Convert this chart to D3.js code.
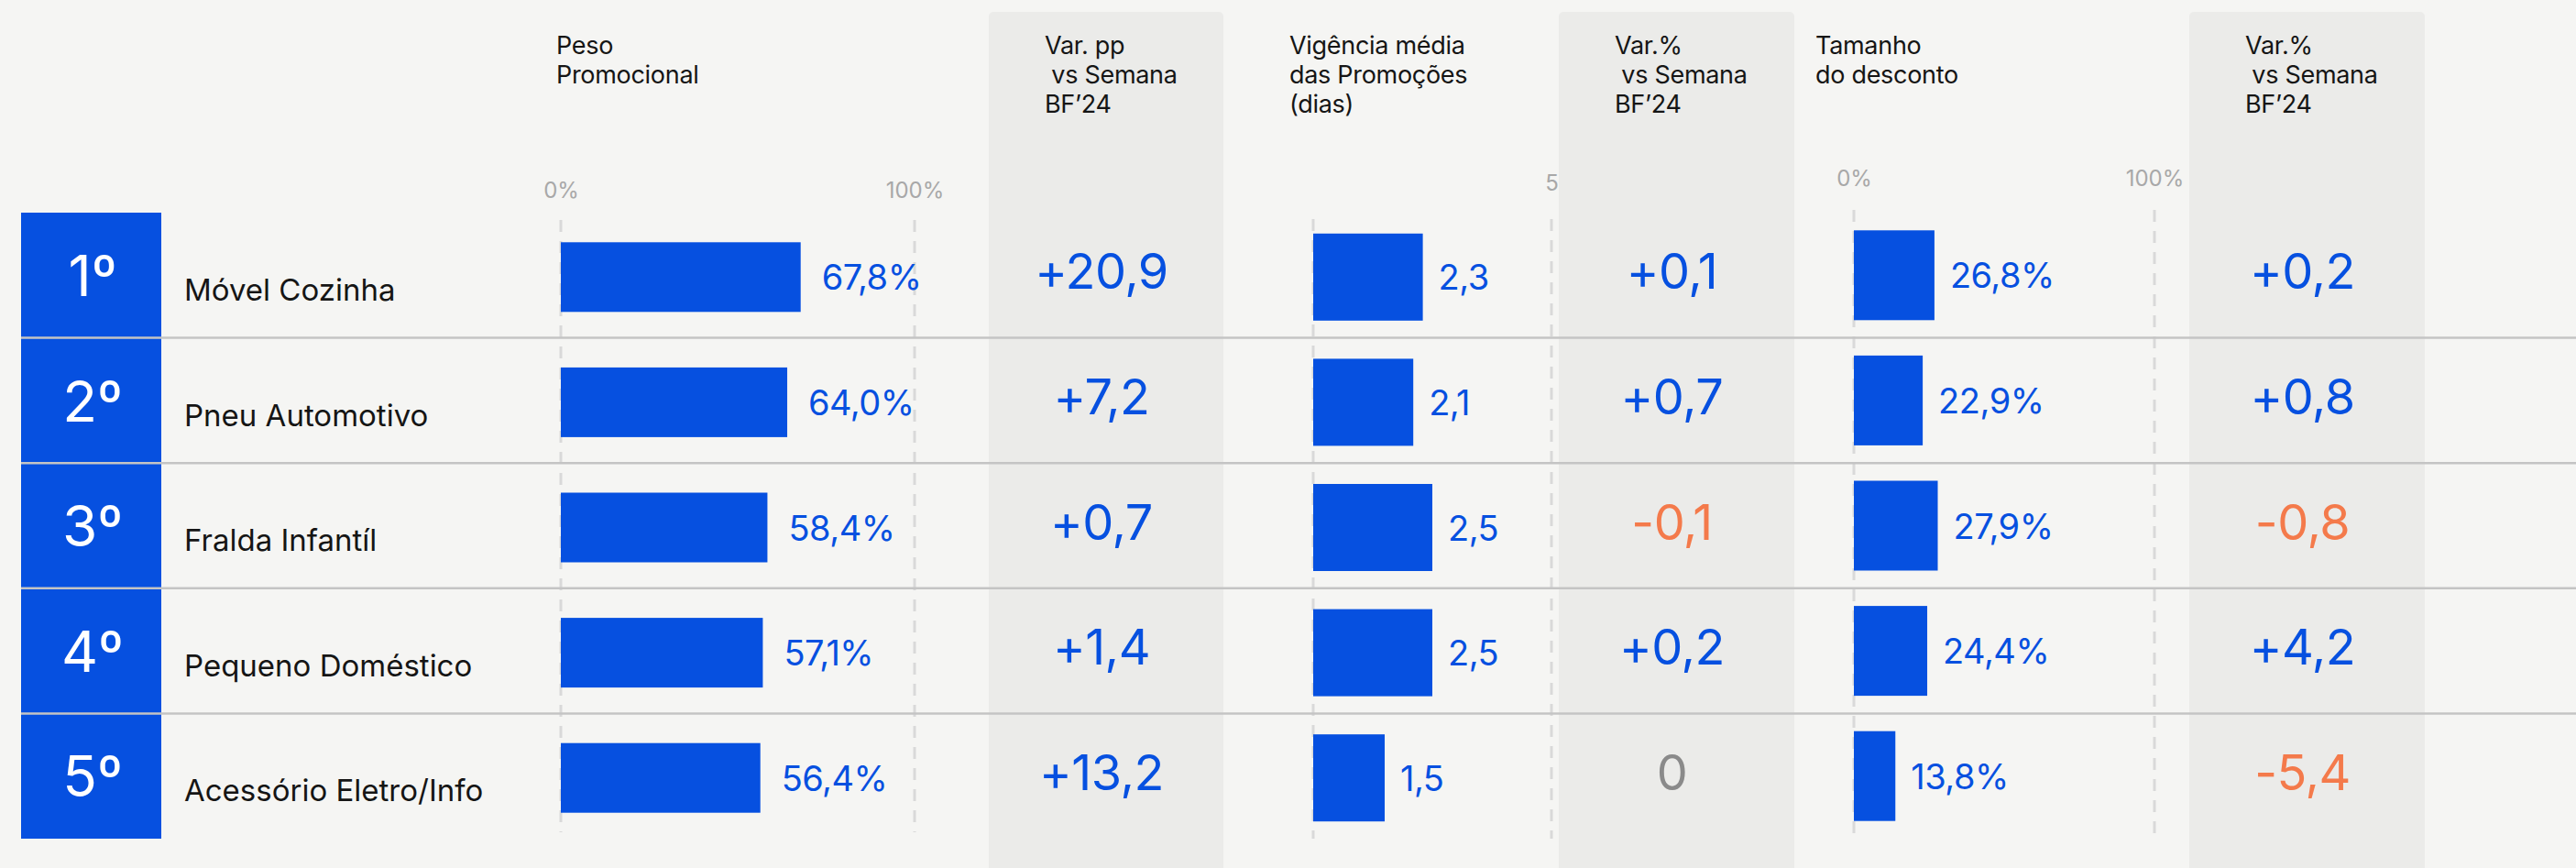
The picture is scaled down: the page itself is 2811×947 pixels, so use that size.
<!DOCTYPE html>
<html>
<head>
<meta charset="utf-8">
<script src="https://cdn.jsdelivr.net/npm/d3@7"></script>
<style>
  body { margin: 0; background: #f5f5f3; }
  svg { display: block; font-family: "Inter", "Noto Sans", sans-serif; }
</style>
</head>
<body>
<script>
// Ranking data
const ranks = ["1º", "2º", "3º", "4º", "5º"];
const categories = ["Móvel Cozinha", "Pneu Automotivo", "Fralda Infantíl", "Pequeno Doméstico", "Acessório Eletro/Info"];
const pesoPromocional = [67.8, 64.0, 58.4, 57.1, 56.4];
const varPeso = [20.9, 7.2, 0.7, 1.4, 13.2];
const vigencia = [2.3, 2.1, 2.5, 2.5, 1.5];
const varVigencia = [0.1, 0.7, -0.1, 0.2, 0];
const desconto = [26.8, 22.9, 27.9, 24.4, 13.8];
const varDesconto = [0.2, 0.8, -0.8, 4.2, -5.4];

// header texts and tick labels
const headers = [
  ["Peso", "Promocional"],
  ["Var. pp", " vs Semana", "BF’24"],
  ["Vigência média", "das Promoções", "(dias)"],
  ["Var.%", " vs Semana", "BF’24"],
  ["Tamanho", "do desconto"],
  ["Var.%", " vs Semana", "BF’24"]
];
const pctTicks = [0, 100];
const diasTicks = [5];

let svgWidth = 2811;
let svgHeight = 947;

const blue = "#0650e0";
const orange = "#f47a4b";

let svg = d3.select("body")
  .append("svg")
  .attr("width", svgWidth)
  .attr("height", svgHeight);

let locale = d3.formatLocale({ decimal: ",", thousands: ".", grouping: [3], currency: ["R$", ""] });
let f1 = locale.format(".1f");
let fmtVar = d => d === 0 ? "0" : (d > 0 ? "+" : "-") + f1(Math.abs(d));

// rows
let yScale = d3.scaleBand()
  .domain(categories)
  .range([232, 915]);
let bw = yScale.bandwidth();
let mid = (d, i) => yScale(categories[i]) + bw / 2;

// bar scales
let xPeso = d3.scaleLinear([0, 100], [612, 998]);
let xDias = d3.scaleLinear([0, 5], [1433, 1693]);
let xDesc = d3.scaleLinear([0, 100], [2023, 2351]);

// grey "var" columns
let greyCols = [[1079, 1335], [1701, 1958], [2389, 2646]];
svg.selectAll(".greycol")
  .data(greyCols)
  .enter()
  .append("rect")
  .attr("x", d => d[0])
  .attr("y", 13)
  .attr("width", d => d[1] - d[0])
  .attr("height", svgHeight)
  .attr("rx", 5)
  .attr("fill", "#ebebe9");

// headers
let headerX = [607, 1140, 1407, 1762, 1981, 2450];
headers.forEach((lines, k) => {
  let t = svg.append("text")
    .attr("x", headerX[k])
    .attr("y", 59)
    .style("font-size", "27px")
    .style("letter-spacing", "-0.3px")
    .style("white-space", "pre")
    .attr("fill", "#151515");
  lines.forEach((l, j) => {
    t.append("tspan")
      .attr("x", headerX[k])
      .attr("y", 59 + j * 32)
      .text(l);
  });
});

// axes (tick labels only) + dashed guide lines
function drawAxis(scale, ticks, fmt, labelY, lineTop, lineBottom, guideTicks) {
  let axis = d3.axisTop(scale)
    .tickValues(ticks)
    .tickFormat(fmt)
    .tickSize(0)
    .tickPadding(0);
  let g = svg.append("g")
    .attr("transform", `translate(0, ${labelY})`)
    .call(axis);
  g.select(".domain").remove();
  g.selectAll("text")
    .attr("dy", "0")
    .style("font-family", "Inter, 'Noto Sans', sans-serif")
    .style("font-size", "24px")
    .attr("fill", "#a8a8a8");

  svg.selectAll(null)
    .data(guideTicks)
    .enter()
    .append("line")
    .attr("x1", d => scale(d))
    .attr("x2", d => scale(d))
    .attr("y1", lineTop)
    .attr("y2", lineBottom)
    .attr("stroke", "#d9d9d9")
    .attr("stroke-width", 3)
    .attr("stroke-dasharray", "13 10");
}

drawAxis(xPeso, pctTicks, d => d + "%", 216, 240, 908, pctTicks);
drawAxis(xDias, diasTicks, d => d, 208, 239, 915, [0].concat(diasTicks));
drawAxis(xDesc, pctTicks, d => d + "%", 203, 229, 916, pctTicks);

// rank boxes
svg.selectAll(".rankbox")
  .data(ranks)
  .enter()
  .append("rect")
  .attr("x", 23)
  .attr("y", (d, i) => yScale(categories[i]))
  .attr("width", 153)
  .attr("height", bw)
  .attr("fill", blue);

// bars
function drawBars(values, scale, barH, labelGap, labelFmt, shift) {
  svg.selectAll(null)
    .data(values)
    .enter()
    .append("rect")
    .attr("x", scale(0))
    .attr("y", (d, i) => mid(d, i) - barH / 2 + shift)
    .attr("width", d => scale(d) - scale(0))
    .attr("height", barH)
    .attr("fill", blue);

  svg.selectAll(null)
    .data(values)
    .enter()
    .append("text")
    .attr("x", d => scale(d) + labelGap)
    .attr("y", (d, i) => mid(d, i) + shift + 14)
    .style("font-size", "38px")
    .style("letter-spacing", "-0.5px")
    .attr("fill", blue)
    .text(labelFmt);
}

drawBars(pesoPromocional, xPeso, 76, 23, d => f1(d) + "%", 2);
drawBars(vigencia, xDias, 95, 17, d => f1(d), 2);
drawBars(desconto, xDesc, 98, 17, d => f1(d) + "%", 0);

// variation numbers
function drawVar(values, col) {
  let cx = (col[0] + col[1]) / 2 - 5;
  svg.selectAll(null)
    .data(values)
    .enter()
    .append("text")
    .attr("x", cx)
    .attr("y", (d, i) => mid(d, i) + 15)
    .attr("text-anchor", "middle")
    .style("font-size", "54px")
    .style("letter-spacing", "-0.5px")
    .attr("fill", d => d > 0 ? blue : d < 0 ? orange : "#8a8a8a")
    .text(fmtVar);
}

drawVar(varPeso, greyCols[0]);
drawVar(varVigencia, greyCols[1]);
drawVar(varDesconto, greyCols[2]);

// row separators
let seps = categories.slice(1).map(c => yScale(c));
svg.selectAll(".sep")
  .data(seps)
  .enter()
  .append("line")
  .attr("x1", 23)
  .attr("x2", svgWidth)
  .attr("y1", d => d)
  .attr("y2", d => d)
  .attr("stroke", "#c4c4c4")
  .attr("stroke-width", 2.5);

// rank text + category names
svg.selectAll(".rank")
  .data(ranks)
  .enter()
  .append("text")
  .attr("x", 101)
  .attr("y", (d, i) => yScale(categories[i]) + 91)
  .attr("text-anchor", "middle")
  .style("font-size", "62px")
  .attr("fill", "#ffffff")
  .text(d => d);

svg.selectAll(".cat")
  .data(categories)
  .enter()
  .append("text")
  .attr("x", 201)
  .attr("y", d => yScale(d) + 96)
  .style("font-size", "33px")
  .attr("fill", "#151515")
  .text(d => d);
</script>
</body>
</html>
